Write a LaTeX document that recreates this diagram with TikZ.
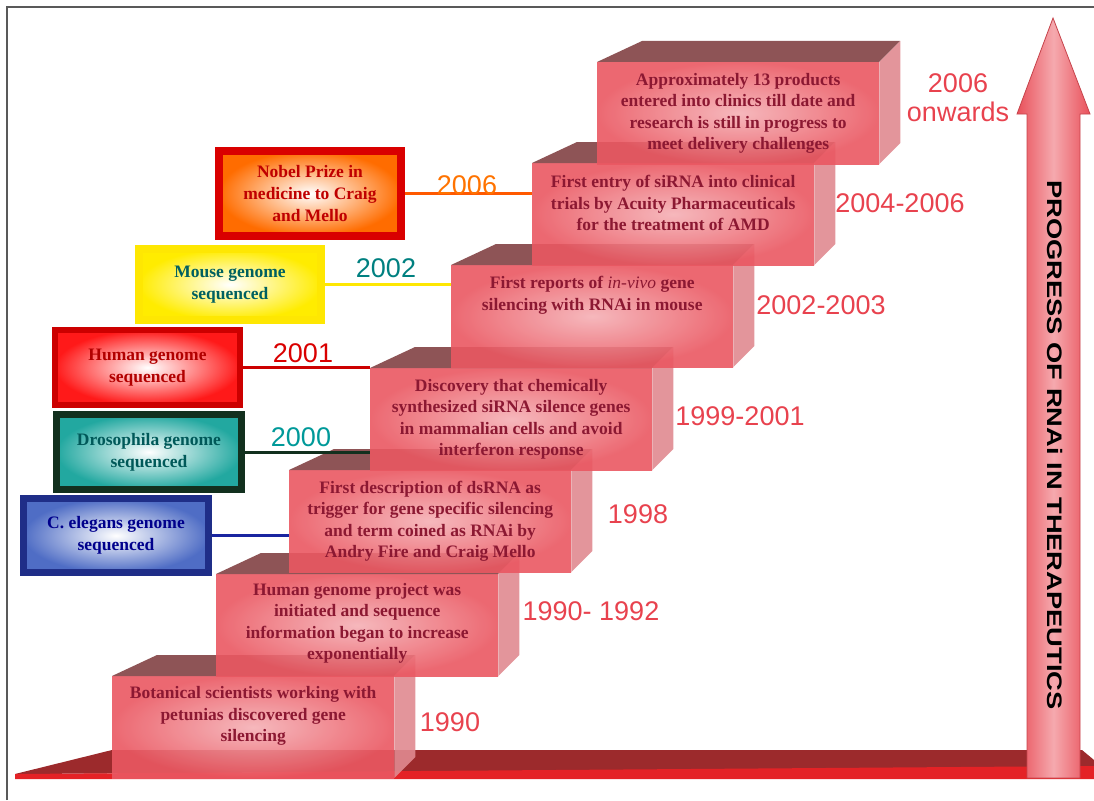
\documentclass[tikz,border=0pt]{standalone}
\usepackage{fontspec}
\setmainfont{Liberation Serif}
\setsansfont{Liberation Sans}

\definecolor{stepedge}{HTML}{EA5862}
\definecolor{stepmid}{HTML}{F5B0B5}
\definecolor{steptop}{HTML}{8E5456}
\definecolor{stepside}{HTML}{E08A90}
\definecolor{steptext}{HTML}{8C1832}
\definecolor{yearred}{HTML}{E8424E}
\definecolor{floordark}{HTML}{9C2A2C}
\definecolor{floorred}{HTML}{E42226}
\definecolor{arrowedge}{HTML}{E9505A}
\definecolor{arrowmid}{HTML}{F5A9AE}
\definecolor{elegansblue}{HTML}{4F6DC5}
\definecolor{elegansline}{HTML}{1F2E88}
\definecolor{drosoline}{HTML}{12301E}
\definecolor{drosofill}{HTML}{22A8A0}

\begin{document}
\begin{tikzpicture}[x=1pt,y=-1pt,
    stepface/.style={shade, inner color=stepmid, outer color=stepedge, fill opacity=0.9,
      minimum width=282pt, minimum height=102pt, inner sep=0pt, anchor=north west},
    steptxt/.style={text=steptext, font=\fontsize{17.5}{21.5}\selectfont\bfseries, align=center, inner sep=0pt},
    year/.style={text=yearred, font=\sffamily\fontsize{27}{29}\selectfont, align=center, inner sep=0pt},
    gbox/.style={shade, inner color=white, minimum width=184pt, minimum height=76pt,
      font=\fontsize{17.5}{22}\selectfont\bfseries, align=center},
    link/.style={line width=3pt}]

    \useasboundingbox (0,0) rectangle (1094,800);

    % Frame
    \draw[gray!70!black, line width=1.5pt] (7,800) -- (7,7) -- (1094,7);

    % Floor
    \fill[floordark] (15,774) -- (112,750) -- (1082,750) -- (1094,760) -- (1094,768) -- cycle;
    \fill[floorred] (15,774) -- (1094,766) -- (1094,779) -- (15,779) -- cycle;

    % Steps
    \foreach \n/\x/\y/\dy/\txt in {
        1/112/676/11/{Botanical scientists working with\\petunias discovered gene\\silencing},
        2/216/574/2/{Human genome project was\\initiated and sequence\\information began to increase\\exponentially},
        3/289/470/0/{First description of dsRNA as\\trigger for gene specific silencing\\and term coined as RNAi by\\Andry Fire and Craig Mello},
        4/370/368/0/{Discovery that chemically\\synthesized siRNA silence genes\\in mammalian cells and avoid\\interferon response},
        5/451/265/21/{First reports of {\mdseries\itshape in-vivo} gene\\silencing with RNAi in mouse},
        6/532/163/11/{First entry of siRNA into clinical\\trials by Acuity Pharmaceuticals\\for the treatment of AMD},
        7/597/62/0/{Approximately 13 products\\entered into clinics till date and\\research is still in progress to\\meet delivery challenges}} {
        \node[stepface] (s\n) at (\x,\y) {};
        \fill[steptop] (s\n.north west) -- ++(45,-21) -- ++(258,0) -- ++(-21,21) -- cycle;
        \fill[stepside, fill opacity=0.9] (s\n.north east) -- ++(21,-21) -- ++(0,102) -- ++(-21,21) -- cycle;
        \node[steptxt] (t\n) at ([yshift=\dy pt]s\n.center) {\txt};
    }

    % Years beside the steps
    \node[year] (y1) at (450,722) {1990};
    \node[year] (y2) at (591,611) {1990- 1992};
    \node[year] (y3) at (638,514) {1998};
    \node[year] (y4) at (740,416) {1999-2001};
    \node[year] (y5) at (821,305) {2002-2003};
    \node[year] (y6) at (900,203) {2004-2006};
    \node[year] (y7) at (958,98) {2006\\onwards};

    % Genome boxes
    \node[gbox, draw=red!85!black, line width=8pt, outer color=orange!85!red,
      text=red!75!black, minimum width=182pt, minimum height=85pt] (nobel) at (310,193.5)
      {Nobel Prize in\\medicine to Craig\\and Mello};
    \node[gbox, draw=yellow!90!orange, line width=8pt, outer color=yellow!85!orange,
      text=teal!75!black, minimum width=182pt, minimum height=71pt] (mouse) at (230,284.5)
      {Mouse genome\\sequenced};
    \node[gbox, draw=red!80!black, line width=6pt, outer color=red!90!white,
      text=red!70!black, minimum width=185pt, minimum height=75pt] (human) at (147.5,367.5)
      {Human genome\\sequenced};
    \node[gbox, draw=drosoline, line width=7pt, outer color=drosofill,
      text=teal!70!black, minimum width=185pt, minimum height=75pt] (droso) at (149,452)
      {Drosophila genome\\sequenced};
    \node[gbox, draw=elegansline, line width=7pt, outer color=elegansblue,
      text=blue!55!black, minimum width=185pt, minimum height=74pt] (elegans) at (116,535.5)
      {C. elegans genome\\sequenced};

    % Links to the steps
    \draw[link, orange!70!red] (nobel.east) -- (nobel.east -| s6.west);
    \draw[link, yellow!90!orange] (mouse.east) -- (mouse.east -| s5.west);
    \draw[link, red!80!black] (human.east) -- (human.east -| s4.west);
    \draw[link, drosoline] (droso.east) -- (droso.east -| s4.west);
    \draw[link, elegansline!80!blue] (elegans.east) -- (elegans.east -| s3.west);

    % Years above the links
    \node[year, text=orange!90!red] (l6) at (467,185) {2006};
    \node[year, text=teal] (l2) at (386,268) {2002};
    \node[year, text=red!85!black] (l1) at (303,353) {2001};
    \node[year, text=teal!80!cyan] (l0) at (301,437) {2000};

    % Big arrow
    \shade[left color=arrowedge, right color=arrowedge, middle color=arrowmid, draw=arrowedge!85!black, line width=0.8pt]
      (1053,18) -- (1090,114) -- (1080,114) -- (1080,778) -- (1027,778) -- (1027,114) -- (1017,114) -- cycle;
    \node[rotate=-90, font=\sffamily\bfseries\fontsize{21}{21}\selectfont] (title) at (1055,445)
      {\scalebox{1.30}[1]{PROGRESS OF RNAi IN THERAPEUTICS}};

\end{tikzpicture}
\end{document}
